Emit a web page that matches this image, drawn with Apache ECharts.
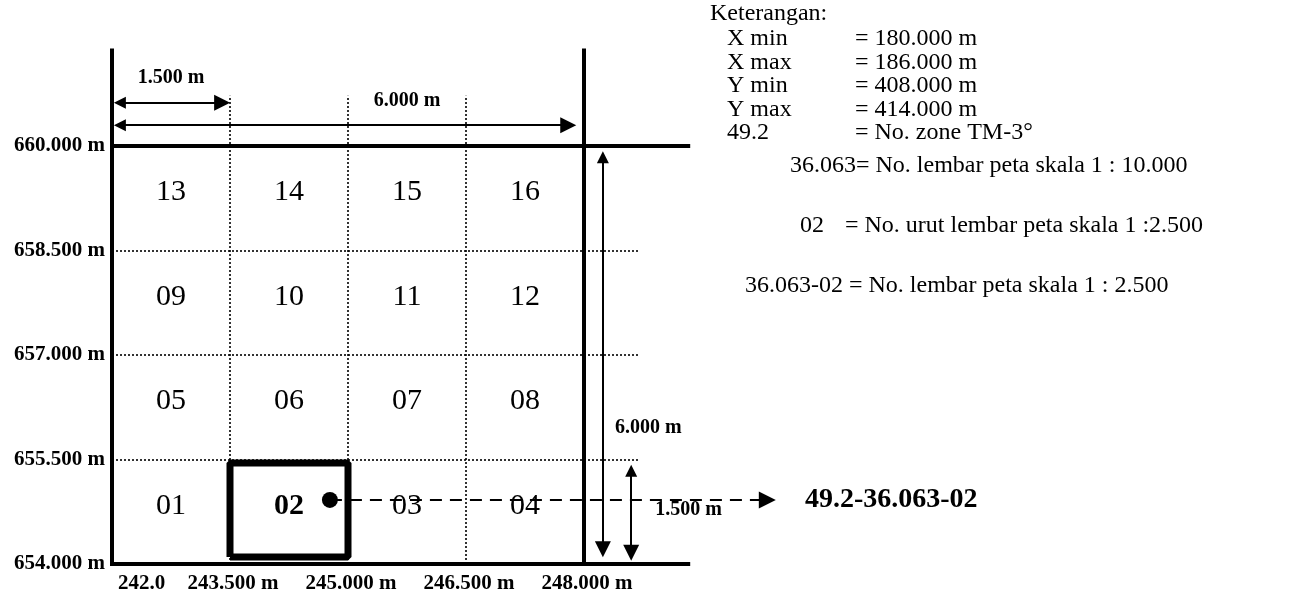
<!DOCTYPE html>
<html>
<head>
<meta charset="utf-8">
<title>Lembar peta skala 1:2.500</title>
<script src="https://cdn.jsdelivr.net/npm/echarts@6/dist/echarts.min.js"></script>
<style>
  html, body { margin: 0; padding: 0; background: #fff; }
  #chart { width: 1306px; height: 595px; }
</style>
</head>
<body>
<div id="chart"></div>
<script>
// 1:2.500 sheets inside one 1:10.000 sheet
const xTicks = [242.0, 243.5, 245.0, 246.5, 248.0]
const xTickLabels = ['242.0', '243.500 m', '245.000 m', '246.500 m', '248.000 m']
const yTicks = [654.0, 655.5, 657.0, 658.5, 660.0]
const yTickLabels = ['654.000 m', '655.500 m', '657.000 m', '658.500 m', '660.000 m']
// sheet numbers, bottom row first
const sheetRows = [
  ['01', '02', '03', '04'],
  ['05', '06', '07', '08'],
  ['09', '10', '11', '12'],
  ['13', '14', '15', '16']
]
const selectedSheet = '02'
const resultCode = '49.2-36.063-02'

// where the lines of the drawing end
const frameTop = 661.4
const frameLeft = 241.9
const frameRight = 249.35
const dotLineTop = 660.72
const dotLineRight = 248.7
const pointerY = 654.92
const pointerFrom = 244.77
const pointerTo = 250.33

// dimension arrows
const dimSmall = '1.500 m'
const dimFull = '6.000 m'
const topSmallY = 660.62
const topFullY = 660.3
const topFullEnd = 247.8
const sideFullX = 248.24
const sideSmallX = 248.6
// arrow heads sit centred on the line end, so pull the ends in a little
const insetX = 0.1
const insetY = 0.11

// legend text
const noteTitle = 'Keterangan:'
const noteKeys = ['X min', 'X max', 'Y min', 'Y max', '49.2']
const noteValues = ['= 180.000 m', '= 186.000 m', '= 408.000 m', '= 414.000 m', '= No. zone TM-3°']
const noteSheet10000 = '36.063= No. lembar peta skala 1 : 10.000'
const noteOrderKey = '02'
const noteOrder = '= No. urut lembar peta skala 1 :2.500'
const noteSheet2500 = '36.063-02 = No. lembar peta skala 1 : 2.500'

const serif = '"Liberation Serif", "Times New Roman", serif'

function labelOf(ticks, labels) {
  return function (v) {
    const i = ticks.findIndex(t => Math.abs(t - v) < 1e-6)
    return i < 0 ? '' : labels[i]
  }
}

const chart = echarts.init(document.getElementById('chart'))

// cell numbers at cell centres
const cellData = []
sheetRows.forEach((row, r) => {
  row.forEach((name, c) => {
    const item = {
      value: [(xTicks[c] + xTicks[c + 1]) / 2, (yTicks[r] + yTicks[r + 1]) / 2, name]
    }
    if (name === selectedSheet) {
      item.label = { fontWeight: 'bold' }
    }
    cellData.push(item)
  })
})

// box round the chosen sheet
const selIdx = sheetRows.findIndex(row => row.includes(selectedSheet))
const selCol = sheetRows[selIdx].indexOf(selectedSheet)
const bx0 = xTicks[selCol], bx1 = xTicks[selCol + 1]
const by0 = yTicks[selIdx] + 0.1, by1 = yTicks[selIdx + 1] - 0.05

const frameLines = [
  { coords: [[xTicks[0], yTicks[0] - 0.06], [xTicks[0], frameTop]] },
  { coords: [[xTicks[4], yTicks[0]], [xTicks[4], frameTop]] },
  { coords: [[frameLeft, yTicks[4]], [frameRight, yTicks[4]]] },
  { coords: [[xTicks[0], yTicks[0]], [frameRight, yTicks[0]]] }
]
const dotLines = []
xTicks.slice(1, -1).forEach(x => dotLines.push({ coords: [[x, yTicks[0]], [x, dotLineTop]] }))
yTicks.slice(1, -1).forEach(y => dotLines.push({ coords: [[xTicks[0], y], [dotLineRight, y]] }))

const dimLines = [
  { coords: [[xTicks[0] + insetX, topSmallY], [xTicks[1] - insetX, topSmallY]] },
  { coords: [[xTicks[0] + insetX, topFullY], [topFullEnd, topFullY]] },
  { coords: [[sideFullX, yTicks[4] - insetY - 0.05], [sideFullX, yTicks[0] + insetY + 0.1]] },
  { coords: [[sideSmallX, yTicks[1] - insetY - 0.05], [sideSmallX, yTicks[0] + insetY + 0.05]] }
]

const dimLabels = [
  { value: [(xTicks[0] + xTicks[1]) / 2, topSmallY, dimSmall], label: { offset: [0, -25] } },
  { value: [(xTicks[2] + xTicks[3]) / 2, topFullY, dimFull], label: { offset: [0, -24] } },
  { value: [sideFullX, 655.95, dimFull], label: { align: 'left', offset: [12, 0] } },
  { value: [sideSmallX, 654.78, dimSmall], label: { align: 'left', offset: [24, 0] } }
]

const noteFont = '24px ' + serif
const noteGraphics = [
  { type: 'text', x: 710, y: 14, style: { text: noteTitle, font: noteFont, fill: '#000', verticalAlign: 'middle' } }
]
noteKeys.forEach((k, i) => {
  const y = 39 + i * 23.5
  noteGraphics.push({ type: 'text', x: 727, y: y, style: { text: k, font: noteFont, fill: '#000', verticalAlign: 'middle' } })
  noteGraphics.push({ type: 'text', x: 855, y: y, style: { text: noteValues[i], font: noteFont, fill: '#000', verticalAlign: 'middle' } })
})
noteGraphics.push(
  { type: 'text', x: 790, y: 166, style: { text: noteSheet10000, font: noteFont, fill: '#000', verticalAlign: 'middle' } },
  { type: 'text', x: 800, y: 226, style: { text: noteOrderKey, font: noteFont, fill: '#000', verticalAlign: 'middle' } },
  { type: 'text', x: 845, y: 226, style: { text: noteOrder, font: noteFont, fill: '#000', verticalAlign: 'middle' } },
  { type: 'text', x: 745, y: 286, style: { text: noteSheet2500, font: noteFont, fill: '#000', verticalAlign: 'middle' } }
)

chart.setOption({
  animation: false,
  backgroundColor: '#fff',
  grid: {
    left: 112,
    top: 6.7,
    width: 1180,
    height: 557.3
  },
  xAxis: {
    type: 'value',
    min: 242,
    max: 257,
    axisLine: { show: false },
    axisTick: { show: false },
    splitLine: { show: false },
    axisLabel: {
      customValues: xTicks,
      formatter: labelOf(xTicks, xTickLabels),
      alignMinLabel: 'left',
      margin: 9,
      padding: [0, 0, 0, 6],
      color: '#000',
      fontFamily: serif,
      fontWeight: 'bold',
      fontSize: 21
    }
  },
  yAxis: {
    type: 'value',
    min: 654,
    max: 662,
    axisLine: { show: false },
    axisTick: { show: false },
    splitLine: { show: false },
    axisLabel: {
      customValues: yTicks,
      formatter: labelOf(yTicks, yTickLabels),
      margin: 7,
      color: '#000',
      fontFamily: serif,
      fontWeight: 'bold',
      fontSize: 21
    }
  },
  graphic: noteGraphics,
  series: [
    {
      type: 'lines',
      coordinateSystem: 'cartesian2d',
      silent: true,
      z: 2,
      lineStyle: { color: '#000', width: 1.6, type: [2, 2], opacity: 1 },
      data: dotLines
    },
    {
      type: 'lines',
      coordinateSystem: 'cartesian2d',
      silent: true,
      z: 3,
      lineStyle: { color: '#000', width: 4, opacity: 1 },
      data: frameLines
    },
    {
      type: 'line',
      silent: true,
      z: 4,
      symbol: 'none',
      lineStyle: { color: '#000', width: 7 },
      data: [[bx0, by0], [bx1, by0], [bx1, by1], [bx0, by1], [bx0, by0]]
    },
    {
      type: 'lines',
      coordinateSystem: 'cartesian2d',
      silent: true,
      z: 5,
      symbol: ['triangle', 'triangle'],
      symbolSize: [12, 16],
      lineStyle: { color: '#000', width: 2, opacity: 1 },
      data: dimLines
    },
    {
      type: 'scatter',
      silent: true,
      z: 5,
      symbolSize: 0,
      itemStyle: { opacity: 1 },
      label: {
        show: true,
        position: 'inside',
        formatter: p => p.value[2],
        color: '#000',
        fontFamily: serif,
        fontSize: 30,
        offset: [0, -6]
      },
      data: cellData
    },
    {
      type: 'scatter',
      silent: true,
      z: 5,
      symbolSize: 0,
      itemStyle: { opacity: 1 },
      label: {
        show: true,
        position: 'inside',
        formatter: p => p.value[2],
        color: '#000',
        fontFamily: serif,
        fontWeight: 'bold',
        fontSize: 20
      },
      data: dimLabels
    },
    {
      type: 'lines',
      coordinateSystem: 'cartesian2d',
      silent: true,
      z: 6,
      symbol: ['none', 'triangle'],
      symbolSize: [13, 17],
      lineStyle: { color: '#000', width: 2, type: [12, 8], opacity: 1 },
      data: [{ coords: [[pointerFrom, pointerY], [pointerTo, pointerY]] }]
    },
    {
      type: 'scatter',
      silent: true,
      z: 7,
      symbol: 'circle',
      symbolSize: 16,
      itemStyle: { color: '#000', opacity: 1 },
      label: {
        show: true,
        position: 'inside',
        formatter: resultCode,
        color: '#000',
        fontFamily: serif,
        fontWeight: 'bold',
        fontSize: 28,
        align: 'left',
        offset: [805 - 330, 0]
      },
      data: [[pointerFrom, pointerY]]
    }
  ]
})
</script>
</body>
</html>
